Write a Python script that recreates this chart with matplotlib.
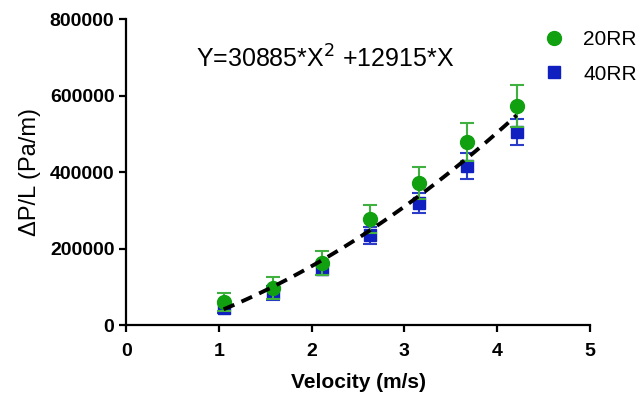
import numpy as np
import matplotlib
matplotlib.use('Agg')
import matplotlib.pyplot as plt
from matplotlib.lines import Line2D

plt.rcParams['font.family'] = ['Liberation Sans', 'DejaVu Sans']

velocity = [1.05, 1.58, 2.11, 2.63, 3.16, 3.68, 4.21]
rr20 = [60000, 97000, 162000, 277000, 371000, 478000, 573000]
rr20_err = [24000, 28000, 31000, 37000, 42000, 50000, 55000]
rr40 = [44000, 84000, 146000, 235000, 319000, 416000, 505000]
rr40_err = [13000, 19000, 16000, 22000, 27000, 34000, 35000]

fit_label = 'Y=30885*X$^2$ +12915*X'

xticks = [0, 1, 2, 3, 4, 5]
yticks = [0, 200000, 400000, 600000, 800000]

green = '#10a010'
blue = '#1020c0'

fig = plt.figure(figsize=(6.44, 3.97), dpi=100)
ax = fig.add_axes([0.196, 0.181, 0.72, 0.771])

ax.errorbar(velocity, rr40, yerr=rr40_err, fmt='s', color=blue, ecolor='#2a3cc8',
            ms=9, capsize=5, elinewidth=1.5, capthick=1.5, zorder=3)
ax.errorbar(velocity, rr20, yerr=rr20_err, fmt='o', color=green, ecolor='#40b040',
            ms=10, capsize=5, elinewidth=1.5, capthick=1.5, zorder=4)

# quadratic fit through both series
vx = np.array(velocity * 2)
vy = np.array(rr20 + rr40)
coef = np.polyfit(vx, vy, 2)
xs = np.linspace(velocity[0], velocity[-1], 100)
ax.plot(xs, np.polyval(coef, xs), '--', color='black', lw=2.8,
        dashes=(3, 2), zorder=5)

ax.text(0.15, 0.84, fit_label, transform=ax.transAxes, fontsize=18)

ax.set_xlim(0, 5)
ax.set_ylim(0, 800000)
ax.set_xticks(xticks)
ax.set_yticks(yticks)
ax.set_xticklabels([str(t) for t in xticks], fontweight='bold', fontsize=14)
ax.set_yticklabels([str(t) for t in yticks], fontweight='bold', fontsize=14)
ax.tick_params(width=1.6, length=5)
ax.tick_params(axis='x', pad=8)

ax.spines['top'].set_visible(False)
ax.spines['right'].set_visible(False)
ax.spines['left'].set_linewidth(1.6)
ax.spines['bottom'].set_linewidth(1.6)

ax.set_xlabel('Velocity (m/s)', fontweight='bold', fontsize=15, labelpad=9)
ax.set_ylabel('ΔP/L (Pa/m)', fontsize=17, labelpad=6)

handles = [Line2D([], [], ls='', marker='o', color=green, ms=10),
           Line2D([], [], ls='', marker='s', color=blue, ms=9)]
ax.legend(handles, ['20RR', '40RR'], loc='upper left', bbox_to_anchor=(0.86, 1.025),
          frameon=False, fontsize=15, handletextpad=0.9, labelspacing=0.75,
          handlelength=1.0)

fig.savefig('out.png', dpi=100)
